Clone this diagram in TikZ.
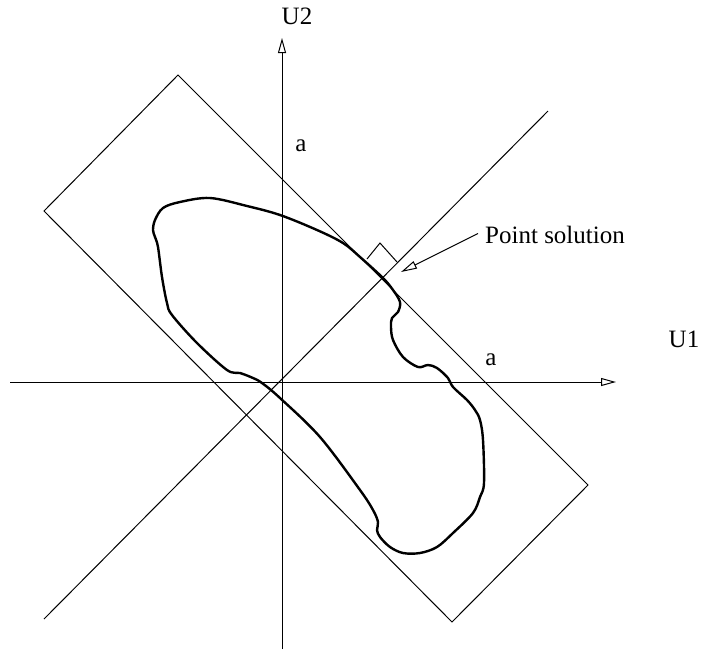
\documentclass[tikz,border=0pt]{standalone}
\usepackage{fontspec}
\setmainfont{Liberation Serif}
\usetikzlibrary{arrows.meta}
\begin{document}
\begin{tikzpicture}[x=1pt,y=-1pt,
  thinline/.style={line width=1pt},
  blob/.style={line width=2.4pt, line join=round},
  lbl/.style={font=\fontsize{25}{28}\selectfont, inner sep=0pt},
  opentip/.style={-{Triangle[open,length=15pt,width=8pt,line width=1pt]}},
  calltip/.style={-{Triangle[open,length=16pt,width=8pt,line width=1pt]}}]
\useasboundingbox (0,0) rectangle (702,649);
% axes
\coordinate (xl) at (10,382);
\coordinate (xr) at (616,382);
\coordinate (yb) at (282,649);
\coordinate (yt) at (282,38);
\draw[thinline,opentip] (xl) -- (xr);
\draw[thinline,opentip] (yb) -- (yt);
% rotated rectangle
\coordinate (rt) at (178,75);
\coordinate (rl) at (44,211);
\coordinate (rb) at (452,622);
\coordinate (rr) at (588,485);
\draw[thinline] (rt) -- (rl) -- (rb) -- (rr) -- cycle;
% diagonal line
\coordinate (dl) at (44,619);
\coordinate (du) at (548,111);
\draw[thinline] (dl) -- (du);
% right-angle marker
\coordinate (m1) at (367,259);
\coordinate (m2) at (380,243);
\coordinate (m3) at (397,262);
\draw[thinline] (m1) -- (m2) -- (m3);
% blob
\draw[blob] plot[smooth cycle, tension=0.55] coordinates {
(210,198) (247,206) (280,215) (317,230) (343,243) (360,257) (383,278)
(393,290) (400,302) (398,312) (392,318) (391,327) (393,340) (403,357)
(418,367) (428,365) (437,368) (448,378) (453,387) (467,400) (475,410)
(480,420) (483,440) (484,483) (480,497) (473,513) (453,533) (437,547)
(420,553) (403,553) (390,547) (380,537) (377,530) (378,522) (373,510)
(360,490) (320,437) (280,398) (262,383) (253,378) (240,373) (227,370)
(197,343) (172,315) (167,303) (162,277) (158,247) (155,237) (153,230)
(155,220) (163,208) (180,202)};
% labels
\node[lbl, anchor=base] (u2) at (297,24) {U2};
\node[lbl, anchor=base] (u1) at (684,347) {U1};
\node[lbl, anchor=base] (a1) at (301,151) {a};
\node[lbl, anchor=base] (a2) at (491,365) {a};
\node[lbl, anchor=base west, inner xsep=0pt] (ps) at (485,243) {Point solution};
\coordinate (pstip) at (401,272);
\draw[thinline,calltip] ([xshift=-7pt,yshift=1pt]ps.west) -- (pstip);
\end{tikzpicture}
\end{document}
